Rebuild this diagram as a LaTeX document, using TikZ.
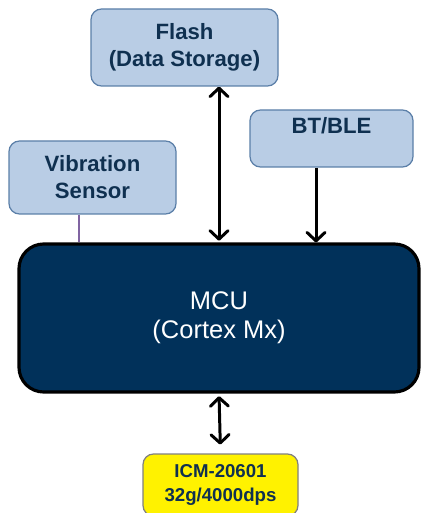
\documentclass[tikz,border=0pt]{standalone}
\usepackage{fontspec}
\setmainfont{Liberation Sans}
\usetikzlibrary{arrows.meta}
\definecolor{boxblue}{HTML}{B9CDE5}
\definecolor{boxedge}{HTML}{5B7FA8}
\definecolor{navy}{HTML}{0F3050}
\definecolor{mcublue}{HTML}{01315A}
\definecolor{vibline}{HTML}{8064A2}

\tikzset{
  part/.style={draw=boxedge, fill=boxblue, rounded corners=6pt, line width=0.7pt, text=navy,
    font=\fontsize{12.6}{15.3}\selectfont\bfseries, align=center, inner sep=0pt},
  link/.style={line width=1.7pt, {Straight Barb[length=1.7mm,width=3.6mm,round]}-{Straight Barb[length=1.7mm,width=3.6mm,round]}},
  downlink/.style={line width=1.7pt, -{Straight Barb[length=1.7mm,width=3.6mm,round]}}
}

\begin{document}
\begin{tikzpicture}
            \useasboundingbox (0,0) rectangle (8.4,-10.26);

            \node[part, minimum width=3.74cm, minimum height=1.54cm] (flash) at (3.69,-0.95) {Flash\\(Data Storage)};
            \node[part, minimum width=3.26cm, minimum height=1.14cm] (btble) at (6.63,-2.77) {BT/BLE\\ ~};
            \node[part, minimum width=3.34cm, minimum height=1.46cm] (vib) at (1.85,-3.55) {Vibration\\Sensor};

            \node[draw=black, line width=1.8pt, fill=mcublue, rounded corners=14pt, text=white,
                  minimum width=8.0cm, minimum height=2.96cm, align=center,
                  font=\fontsize{14.5}{16.5}\selectfont] (mcu) at (4.38,-6.36) {MCU\\(Cortex Mx)};

            \node[draw=gray, fill=yellow, rounded corners=6pt, line width=0.7pt, text=navy, align=center,
                  minimum width=3.1cm, minimum height=1.24cm, inner sep=0pt,
                  font=\fontsize{10.6}{13.5}\selectfont\bfseries] (icm) at (4.41,-9.70) {ICM-20601\\32g/4000dps};

            \coordinate (btout) at ([xshift=-0.31cm]btble.south);
            \coordinate (vibout) at ([xshift=-0.27cm]vib.south);

            \draw[link, shorten <=1pt] (mcu.north) -- (mcu.north |- flash.south);
            \draw[downlink] (btout) -- (btout |- mcu.north);
            \draw[vibline, line width=1.4pt] (vibout) -- (vibout |- mcu.north);
            \draw[link, shorten <=1.5pt, shorten >=5pt] (mcu.south) -- (icm.north);
\end{tikzpicture}
\end{document}
